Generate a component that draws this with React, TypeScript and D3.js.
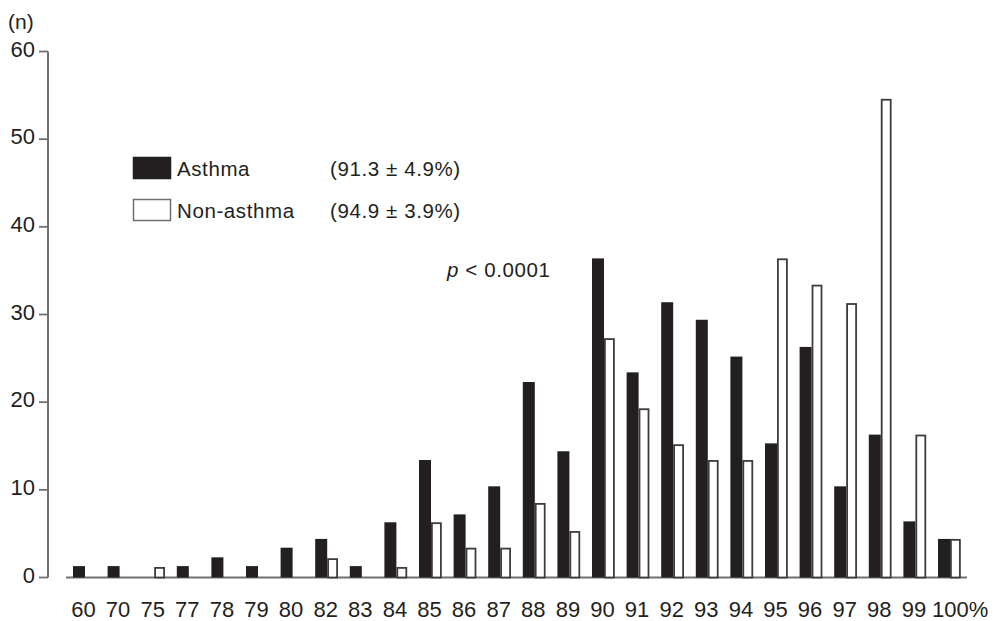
import React from "react";
import * as d3 from "d3";

const categories = ["60","70","75","77","78","79","80","82","83","84","85","86","87","88","89","90","91","92","93","94","95","96","97","98","99","100"];
const tickLabels = ["60","70","75","77","78","79","80","82","83","84","85","86","87","88","89","90","91","92","93","94","95","96","97","98","99","100%"];
const asthma = [1.3,1.3,0,1.3,2.3,1.3,3.4,4.4,1.3,6.3,13.4,7.2,10.4,22.3,14.4,36.4,23.4,31.4,29.4,25.2,15.3,26.3,10.4,16.3,6.4,4.4];
const nonAsthma = [0,0,1.2,0,0,0,0,2.2,0,1.2,6.3,3.4,3.4,8.5,5.3,27.3,19.3,15.2,13.4,13.4,36.4,33.4,31.3,54.6,16.3,4.4];
const yTicks = [0,10,20,30,40,50,60];
const legendItems = [
  { name: "Asthma", stat: "(91.3 ± 4.9%)", fill: "#231f20" },
  { name: "Non-asthma", stat: "(94.9 ± 3.9%)", fill: "#ffffff" },
];

const W = 995, H = 621;
const FONT = "'Liberation Sans', Arial, Helvetica, sans-serif";
const AXIS = "#707070";
const BLACK = "#231f20";

export default function App() {
  const x = d3.scalePoint<string>().domain(categories).range([85, 950]);
  const y = d3.scaleLinear().domain([0, 60]).range([577.5, 51.5]);
  const bw = 12;

  return (
    <svg width={W} height={H} style={{ position: "absolute", left: 0, top: 0, background: "#fff" }} fontFamily={FONT}>
      {/* y axis */}
      <line x1={48} x2={48} y1={y(60)} y2={y(0)} stroke={AXIS} strokeWidth={2} />
      {yTicks.map((t) => (
        <g key={t}>
          <line x1={39} x2={48} y1={y(t)} y2={y(t)} stroke={AXIS} strokeWidth={1.8} />
          <text x={35} y={y(t) - 2.5} dy="0.35em" textAnchor="end" fontSize={22} fill="#231f20">{t}</text>
        </g>
      ))}
      <text x={8} y={29} fontSize={21} fill="#231f20">(n)</text>

      {/* baseline */}
      <line x1={66} x2={967} y1={y(0)} y2={y(0)} stroke={AXIS} strokeWidth={2} />

      {/* bars */}
      {categories.map((c, i) => {
        const cx = x(c) as number;
        const a = asthma[i];
        const n = nonAsthma[i];
        return (
          <g key={c}>
            {a > 0 && (
              <rect x={cx - bw} y={y(a)} width={bw} height={y(0) - y(a)} fill={BLACK} />
            )}
            {n > 0 && (
              <rect x={cx + 0.9} y={y(n) + 0.9} width={9} height={y(0) - y(n) - 0.9} fill="#fff" stroke="#3c3c3c" strokeWidth={1.8} />
            )}
          </g>
        );
      })}

      {/* x labels */}
      {categories.map((c, i) => {
        const cx = x(c) as number;
        const last = i === categories.length - 1;
        return (
          <text key={c} x={last ? cx - 18 : cx - 1.5} y={617} textAnchor={last ? "start" : "middle"} fontSize={22} fill="#231f20">
            {tickLabels[i]}
          </text>
        );
      })}

      {/* legend */}
      {legendItems.map((d, i) => (
        <g key={d.name} transform={`translate(0,${i * 42})`}>
          <rect x={133.5} y={157.5} width={37} height={21} fill={d.fill} stroke={i === 0 ? BLACK : "#707070"} strokeWidth={1.5} />
          <text x={177} y={176} fontSize={20.5} letterSpacing={0.6} fill="#231f20">{d.name}</text>
          <text x={330} y={176} fontSize={20.5} letterSpacing={0.6} fill="#231f20">{d.stat}</text>
        </g>
      ))}

      <text x={447} y={277} fontSize={20.5} letterSpacing={0.6} fill="#231f20">
        <tspan fontStyle="italic">p</tspan> &lt; 0.0001
      </text>
    </svg>
  );
}
